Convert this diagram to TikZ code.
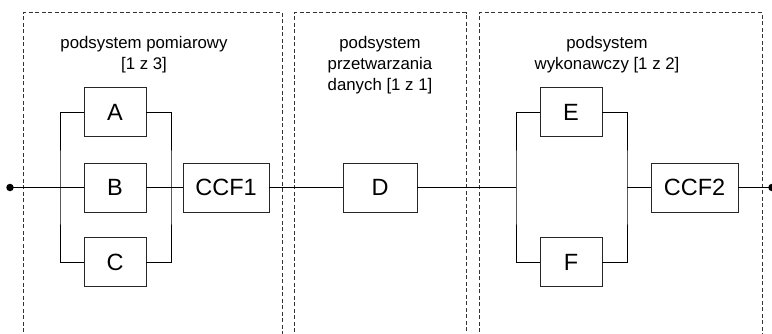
\documentclass[tikz,border=0pt]{standalone}
\usepackage{fontspec}
\setmainfont{Liberation Sans}
\begin{document}
\begin{tikzpicture}[x=1pt,y=-1pt,
  wire/.style={draw=black,line width=0.9pt},
  unit/.style={draw=black!85,line width=0.9pt,rectangle,minimum height=49pt,
    inner sep=0pt,font=\fontsize{23.5}{26}\selectfont},
  panel/.style={draw=black!80,line width=0.8pt,dash pattern=on 4pt off 2.5pt},
  caption/.style={align=center,anchor=north,inner sep=0pt,
    font=\fontsize{16.8}{21}\selectfont},
  terminal/.style={circle,fill=black,inner sep=0pt,minimum size=7.5pt}]
\useasboundingbox (0,0) rectangle (772,333);

% subsystem frames, open at the bottom
\draw[panel] (23,345) -- (23,12.7) -- (282,12.7) -- (282,345);
\draw[panel] (294,345) -- (294,12.7) -- (466,12.7) -- (466,345);
\draw[panel] (479,345) -- (479,12.7) -- (762,12.7) -- (762,345);

% captions
\node[caption] (cap1) at (144,36) {podsystem pomiarowy\\\relax[1 z 3]};
\node[caption] (cap2) at (380,36) {podsystem\\przetwarzania\\danych [1 z 1]};
\node[caption] (cap3) at (607,36) {podsystem\\wykonawczy [1 z 2]};

% units
\node[unit,minimum width=62pt] (A) at (115,112) {A};
\node[unit,minimum width=62pt] (B) at (115,187.5) {B};
\node[unit,minimum width=62pt] (C) at (115,262) {C};
\node[unit,minimum width=86pt] (CCF1) at (226,187.5) {CCF1};
\node[unit,minimum width=74pt] (D) at (380,187.5) {D};
\node[unit,minimum width=62pt] (E) at (571,112) {E};
\node[unit,minimum width=62pt] (F) at (571,262) {F};
\node[unit,minimum width=87pt] (CCF2) at (694.5,187.5) {CCF2};

% terminals and junctions
\node[terminal] (in) at (10,187.5) {};
\node[terminal] (out) at (772,187.5) {};
\coordinate (L1) at (60,187.5);
\coordinate (R1) at (171,187.5);
\coordinate (L2) at (516,187.5);
\coordinate (R2) at (627,187.5);

% wiring
\draw[wire] (in.center) -- (B.west);
\draw[wire] (A.west) -| (L1) |- (C.west);
\draw[wire] (A.east) -| (R1) |- (C.east);
\draw[wire] (B.east) -- (CCF1.west);
\draw[wire] (CCF1.east) -- (D.west);
\draw[wire] (D.east) -- (L2);
\draw[wire] (E.west) -| (L2) |- (F.west);
\draw[wire] (E.east) -| (R2) |- (F.east);
\draw[wire] (R2) -- (CCF2.west);
\draw[wire] (CCF2.east) -- (out.center);
\end{tikzpicture}
\end{document}
